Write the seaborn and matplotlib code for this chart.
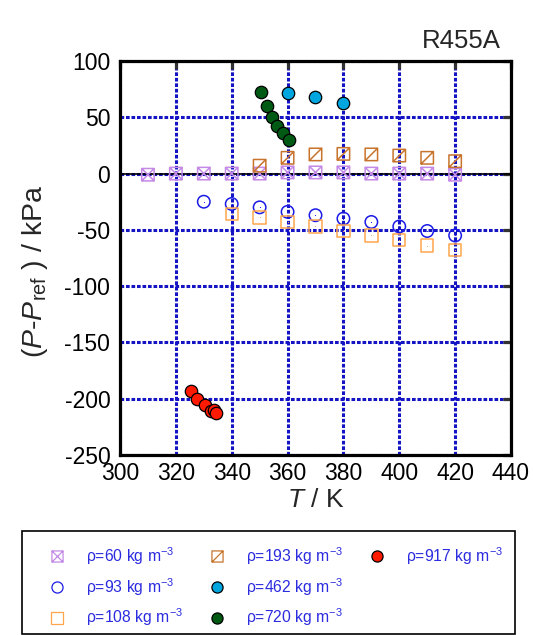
import numpy as np
import pandas as pd
import matplotlib
matplotlib.use("Agg")
import matplotlib.pyplot as plt
import seaborn as sns
from matplotlib.path import Path
from matplotlib.lines import Line2D
from matplotlib.patches import Rectangle

# Data
T_60 = [310, 320, 330, 340, 350, 360, 370, 380, 390, 400, 410, 420]
dP_60 = [-1, 0, 0, 0, 0, 1, 1, 1, 0, 0, 0, -1]

T_93 = [330, 340, 350, 360, 370, 380, 390, 400, 410, 420]
dP_93 = [-25, -27, -30, -34, -37, -40, -43, -47, -51, -55]

T_108 = [340, 350, 360, 370, 380, 390, 400, 410, 420]
dP_108 = [-36, -39, -43, -47, -51, -55, -59, -64, -68]

T_193 = [350, 360, 370, 380, 390, 400, 410, 420]
dP_193 = [7, 14, 17, 17.5, 17, 16, 14, 11]

T_462 = [360, 370, 380]
dP_462 = [72, 68, 63]

T_720 = [350.5, 352.5, 354.4, 356.3, 358.4, 360.4]
dP_720 = [72.5, 60, 50, 42.5, 36, 30]

T_917 = [325.4, 327.6, 330.5, 332.6, 333.5, 334.4]
dP_917 = [-193, -200, -205.5, -210.5, -210, -212.5]

# custom markers: square with X, square with slash
sq_x = Path([(-1, -1), (1, -1), (1, 1), (-1, 1), (-1, -1),
             (-1, -1), (1, 1), (-1, 1), (1, -1)],
            [Path.MOVETO, Path.LINETO, Path.LINETO, Path.LINETO, Path.CLOSEPOLY,
             Path.MOVETO, Path.LINETO, Path.MOVETO, Path.LINETO])
sq_sl = Path([(-1, -1), (1, -1), (1, 1), (-1, 1), (-1, -1),
              (-1, -1), (1, 1)],
             [Path.MOVETO, Path.LINETO, Path.LINETO, Path.LINETO, Path.CLOSEPOLY,
              Path.MOVETO, Path.LINETO])

sns.set_style("white")
plt.rcParams['font.family'] = ['Liberation Sans', 'DejaVu Sans']
plt.rcParams['mathtext.fontset'] = 'custom'
plt.rcParams['mathtext.rm'] = 'Liberation Sans'
plt.rcParams['mathtext.it'] = 'Liberation Sans:italic'
plt.rcParams['axes.unicode_minus'] = False

fig = plt.figure(figsize=(5.33, 6.35), dpi=100)
ax = fig.add_axes([120/533, 1-455/635, (511-120)/533, (455-61)/635])

ms = 80
series = [
    (T_60, dP_60, sq_x, '#c38ae6', 'none', r'ρ=60 kg m$^{-3}$'),
    (T_93, dP_93, 'o', '#1a1ae6', 'none', r'ρ=93 kg m$^{-3}$'),
    (T_108, dP_108, 's', '#ffa64d', 'none', r'ρ=108 kg m$^{-3}$'),
    (T_193, dP_193, sq_sl, '#c8742c', 'none', r'ρ=193 kg m$^{-3}$'),
    (T_462, dP_462, 'o', 'black', '#00a6e0', r'ρ=462 kg m$^{-3}$'),
    (T_720, dP_720, 'o', 'black', '#005a14', r'ρ=720 kg m$^{-3}$'),
    (T_917, dP_917, 'o', 'black', '#ff1a00', r'ρ=917 kg m$^{-3}$'),
]

handles = []
for T, dP, mk, ec, fc, lab in series:
    df = pd.DataFrame({"T": T, "dP": dP})
    if fc == 'none':
        sns.scatterplot(data=df, x="T", y="dP", ax=ax, marker=mk, s=ms,
                        color=ec, facecolor='none', edgecolor=ec,
                        linewidth=1.1, zorder=3)
    else:
        sns.scatterplot(data=df, x="T", y="dP", ax=ax, marker=mk, s=ms,
                        color=fc, edgecolor=ec, linewidth=0.9, zorder=3)
    handles.append(Line2D([], [], linestyle='none', marker=mk, markersize=8,
                          markeredgecolor=ec, markerfacecolor=fc,
                          markeredgewidth=0.9, label=lab))

# tiny centre dots of the open symbols
for T, dP, c in [(T_93, dP_93, '#1a1ae6'), (T_108, dP_108, '#ffa64d')]:
    sns.scatterplot(x=T, y=dP, ax=ax, marker='.', s=2, color=c,
                    edgecolor=c, linewidth=0, zorder=4)

ax.set_xlim(300, 440)
ax.set_ylim(-250, 100)
ax.set_xticks(np.arange(300, 441, 20))
ax.set_yticks(np.arange(-250, 101, 50))
ax.grid(True, color='#1414c4', linestyle=(0, (1.2, 0.6)), linewidth=2.2)
ax.set_axisbelow(True)
ax.axhline(0, color='black', linewidth=1.2, zorder=1)
for sp in ax.spines.values():
    sp.set_linewidth(2.3)
    sp.set_color('black')
ax.tick_params(direction='in', length=6, width=2.3, labelsize=16.5,
               top=True, right=True, color='#333333', labelcolor='black')
ax.tick_params(axis='y', pad=7)
ax.tick_params(axis='x', pad=5)

ax.set_xlabel(r'$T$ / K', fontsize=19, labelpad=2)
ax.set_ylabel(r'($P$-$P_{\mathrm{ref}}$ ) / kPa', fontsize=20.5)
ax.yaxis.set_label_coords(-0.18, 0.465)

fig.text(501/533, 1-48/635, 'R455A', ha='right', va='baseline', fontsize=18.5)

# legend box
fig.patches.append(Rectangle((22/533, 1-634/635), 493/533, 103/635,
                             transform=fig.transFigure, fill=False,
                             edgecolor='black', linewidth=1.2))
blank = Line2D([], [], linestyle='none', label=' ')
leg = fig.legend(handles=handles + [blank, blank], ncol=3, loc='upper left',
                 bbox_to_anchor=(49/533, 1-545/635), frameon=False,
                 fontsize=11.3, labelcolor='#2b2be0', handlelength=1.0,
                 handletextpad=1.35, columnspacing=1.65, labelspacing=0.58,
                 borderpad=0, borderaxespad=0)

plt.savefig("out.png", dpi=100)
